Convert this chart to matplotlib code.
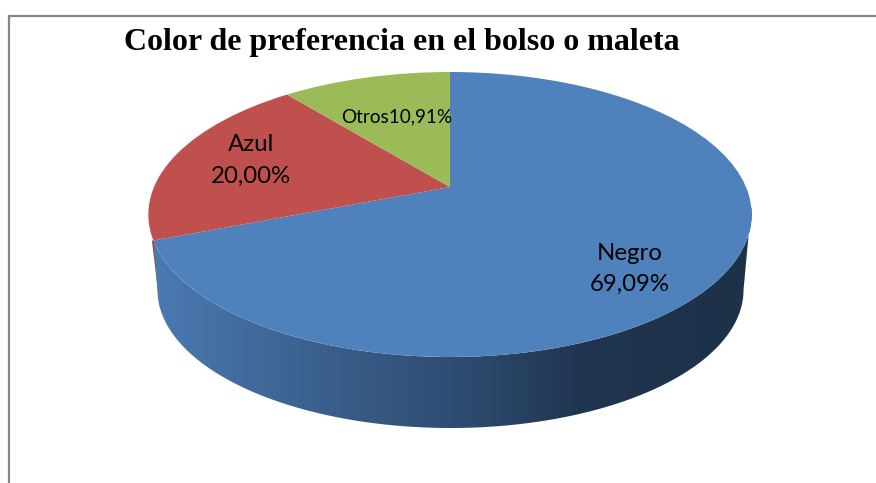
import numpy as np
import matplotlib
matplotlib.use("Agg")
import matplotlib.pyplot as plt
from matplotlib.transforms import Transform
from matplotlib.path import Path
from matplotlib.patches import Polygon
from matplotlib.colors import LinearSegmentedColormap

categories = ["Negro", "Azul", "Otros"]
values = [69.09, 20.00, 10.91]
colors = ["#4F81BD", "#C0504D", "#9BBB59"]
title = "Color de preferencia en el bolso o maleta"
labels = ["Negro\n69,09%", "Azul\n20,00%", "Otros10,91%"]


class Perspective(Transform):
    """Tilted-disc projection of the unit pie onto pixel coordinates."""
    input_dims = output_dims = 2
    has_inverse = False
    is_affine = False
    cx, cy, c, a, k = 450.0, 187.0, 296.0, 101.1, -0.193

    def transform_non_affine(self, xy):
        xy = np.asarray(xy, float)
        u, v = xy[:, 0], -xy[:, 1]
        d = 1 + self.k * v
        return np.column_stack([self.cx + self.c * u / d, (self.cy + self.a * v) / d])

    def transform_path_non_affine(self, path):
        return Path(self.transform_non_affine(path.vertices), path.codes)


proj = Perspective()


def rim(deg):
    t = np.radians(np.asarray(deg, float))
    return proj.transform_non_affine(np.column_stack([np.cos(t), np.sin(t)]))


fig = plt.figure(figsize=(8.76, 4.83), dpi=100, facecolor="white")
ax = fig.add_axes([0, 0, 1, 1])
wedges, _ = ax.pie(values, colors=colors, startangle=90, counterclock=False,
                   wedgeprops=dict(linewidth=0, zorder=5))
ax.set_aspect("auto")
ax.set_xlim(0, 876)
ax.set_ylim(483, 0)
ax.set_axis_off()
for w in wedges:
    w.set_transform(proj + ax.transData)

# side wall of the front slice
negro = wedges[0]
start = negro.theta1 % 360            # lower-left end of the Negro slice
top_arc = rim(np.linspace(start, 352, 200))
bcx, bcy, brx, bry = 450.5, 290.0, 293.0, 138.0
tb = np.radians(np.linspace(0, 180, 200))
bottom = np.column_stack([bcx + brx * np.cos(tb), bcy + bry * np.sin(tb)])
wall = np.vstack([top_arc, [[bcx + brx, bcy]], bottom, [[top_arc[0, 0] + 4, bcy]]])

# sliver of the red slice's wall behind the blue one
ax.fill([top_arc[0, 0] - 1.5, top_arc[0, 0] + 1, 160, 162, 160],
        [top_arc[0, 1], top_arc[0, 1], 300, 310, 308],
        color="#A33F3C", lw=0, zorder=1)

cmap = LinearSegmentedColormap.from_list(
    "wall", [(0, "#4A7BB3"), (0.17, "#41699A"), (0.52, "#2D4B70"), (0.72, "#20354F"), (1, "#1D3149")])
grad = np.linspace(0, 1, 512).reshape(1, -1)
im = ax.imshow(grad, extent=(153, 752, 483, 0), cmap=cmap, aspect="auto", zorder=2)
ax.set_xlim(0, 876)
ax.set_ylim(483, 0)
patch = Polygon(wall, closed=True, transform=ax.transData, fc="none", ec="none")
ax.add_patch(patch)
im.set_clip_path(patch)

# frame of the chart area
ax.plot([8.7, 8.7, 876], [483, 16, 16], color="#868686", lw=1.6, zorder=6, solid_joinstyle="miter")

ax.text(401.5, 42.5, title, family="Liberation Serif", weight="bold", fontsize=23.05,
        ha="center", va="center", color="black", zorder=10)
sans = ["Lato", "DejaVu Sans"]
ax.text(629.5, 269, labels[0], family=sans, fontsize=17.3, ha="center", va="center",
        linespacing=1.62, color="black", zorder=10)
ax.text(251, 160.5, labels[1], family=sans, fontsize=17.3, ha="center", va="center",
        linespacing=1.62, color="black", zorder=10)
ax.text(397, 117, labels[2], family=sans, fontsize=13.6, ha="center", va="center",
        color="black", zorder=10)

fig.savefig("out.png", dpi=100, facecolor="white")
